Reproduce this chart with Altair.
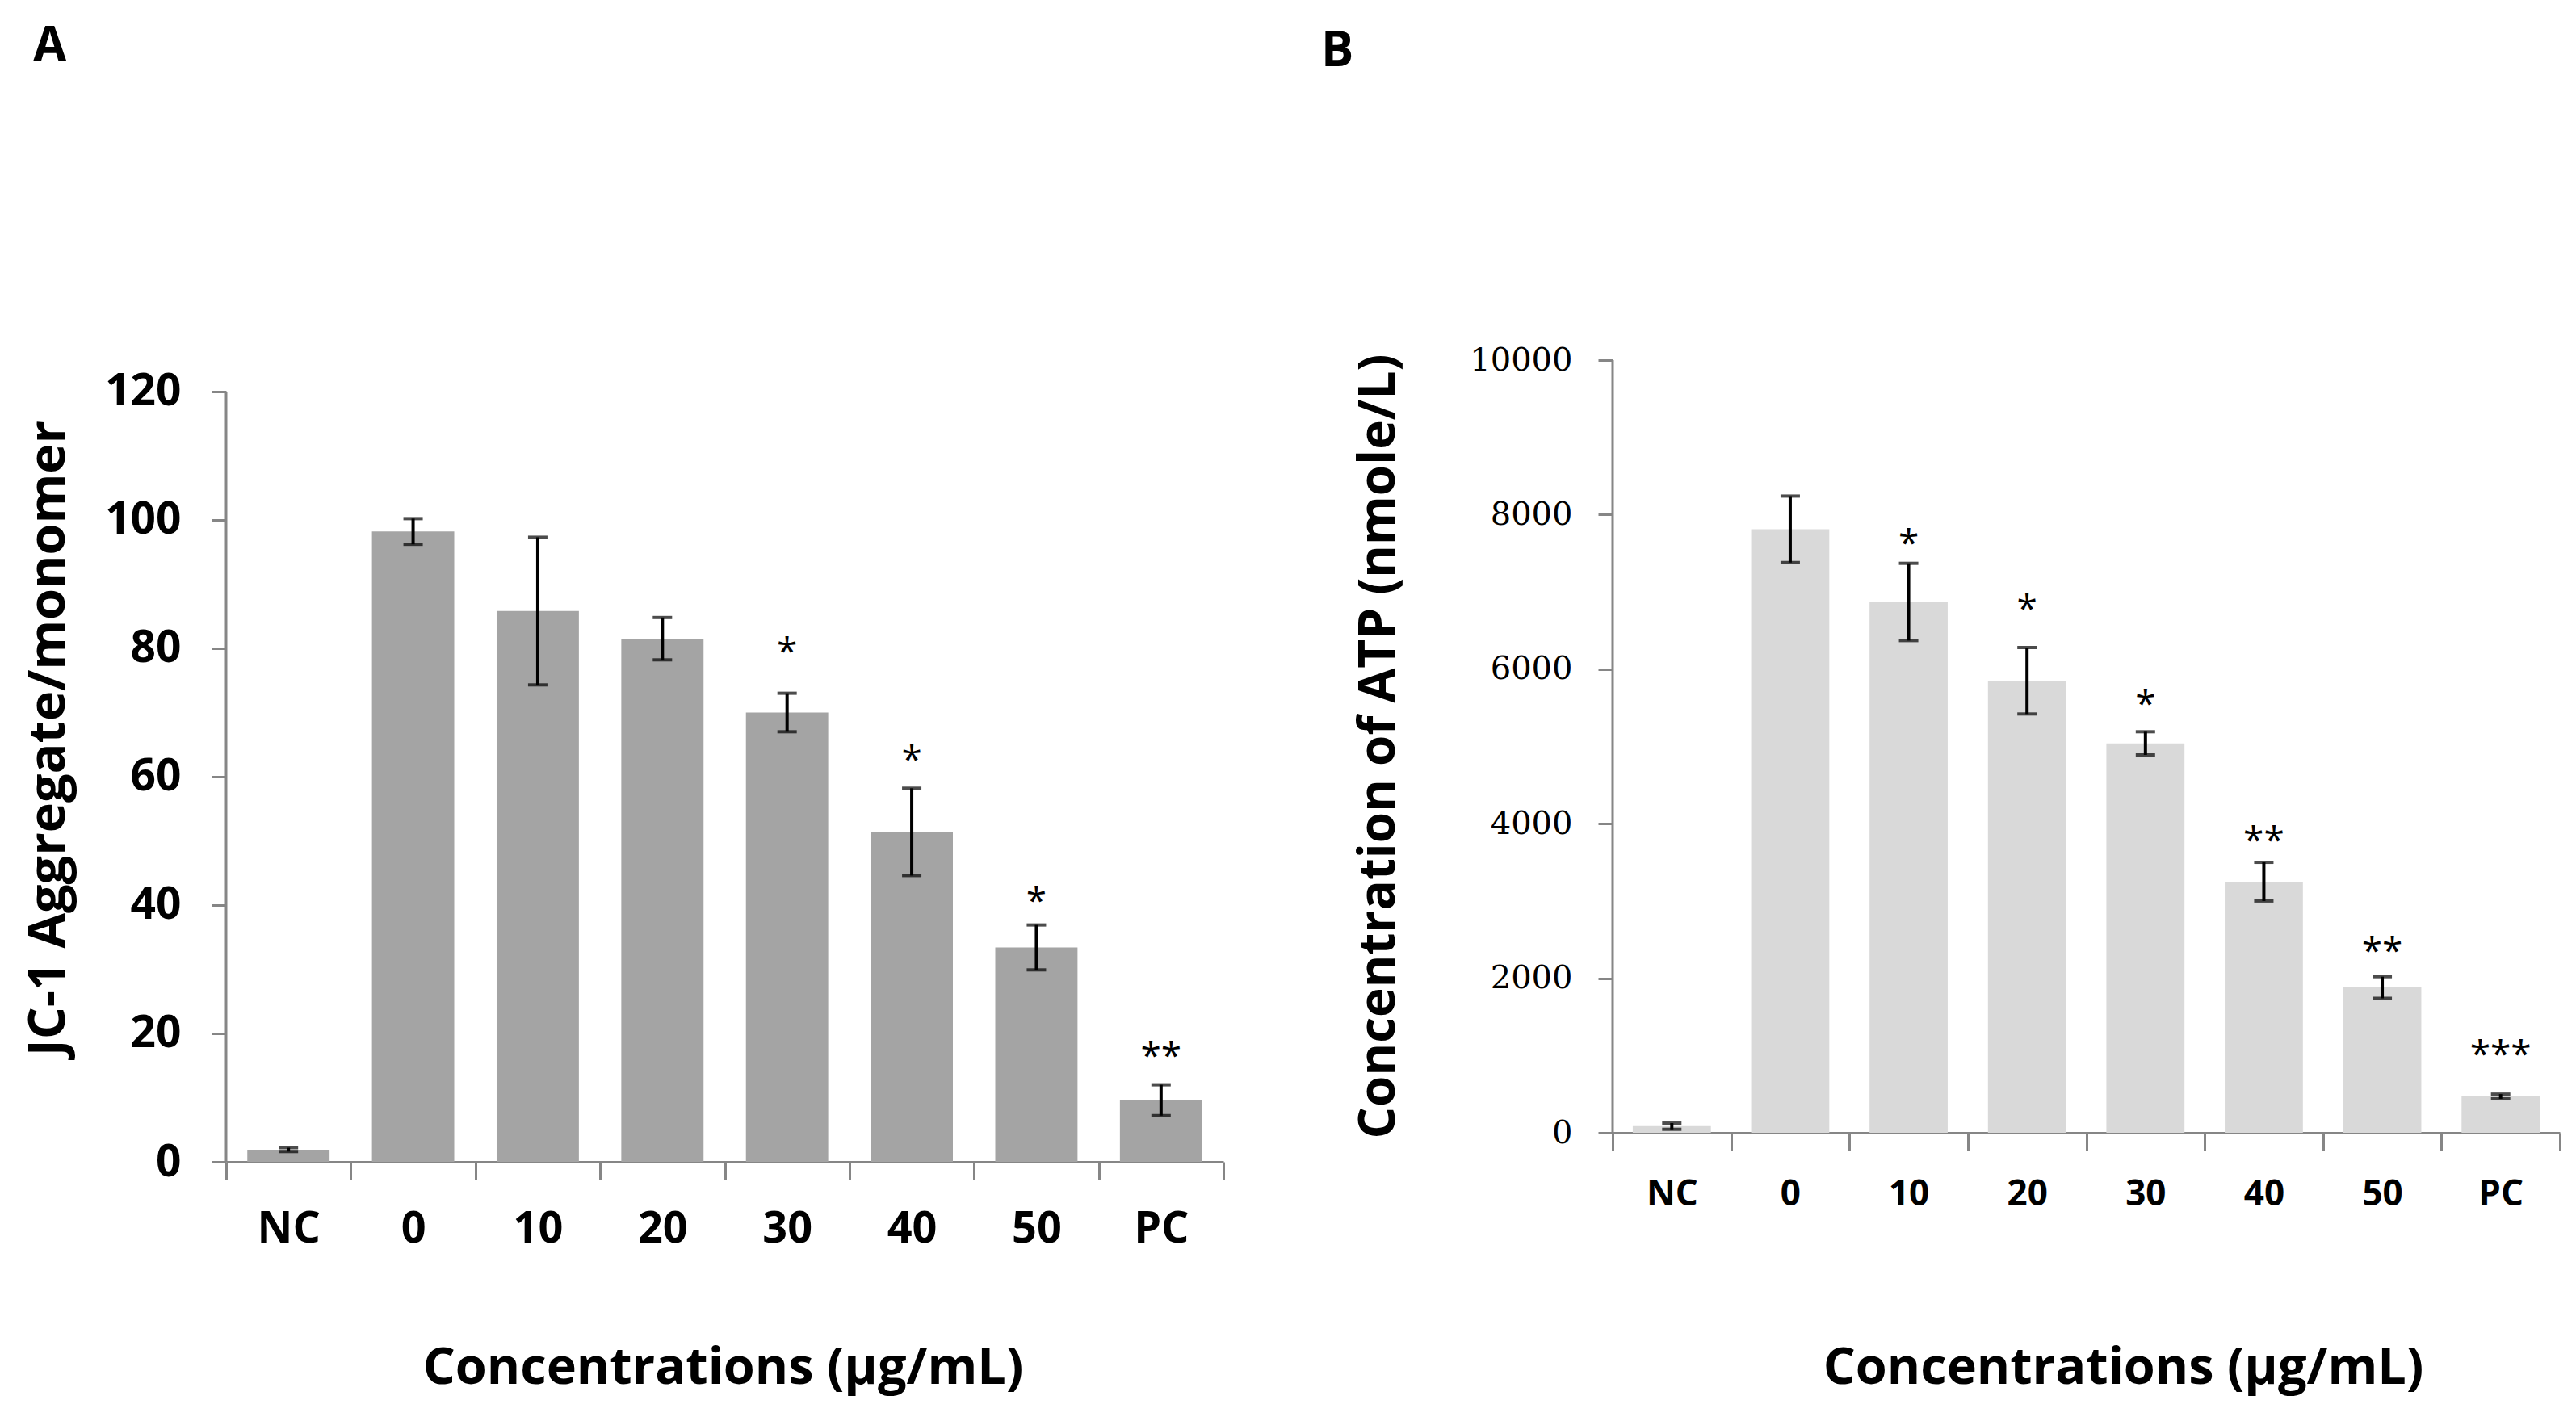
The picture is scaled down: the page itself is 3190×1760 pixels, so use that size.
import altair as alt
import pandas as pd

# ---------------- data ----------------
cats = ["NC", "0", "10", "20", "30", "40", "50", "PC"]

jc1_mean = [1.9, 98.2, 85.8, 81.5, 70.0, 51.4, 33.4, 9.6]
jc1_err = [0.3, 2.0, 11.5, 3.3, 3.0, 6.8, 3.5, 2.4]
jc1_sig = ["", "", "", "", "*", "*", "*", "**"]
jc1_sig_y = [None, None, None, None, 80.9, 64.0, 42.0, 17.9]
jc1_ticks = [0, 20, 40, 60, 80, 100, 120]

atp_mean = [85, 7810, 6870, 5850, 5040, 3250, 1880, 470]
atp_err = [40, 430, 500, 430, 150, 250, 140, 30]
atp_sig = ["", "", "*", "*", "*", "**", "**", "***"]
atp_sig_y = [None, None, 7745, 6894, 5660, 3894, 2468, 1128]
atp_ticks = [0, 2000, 4000, 6000, 8000, 10000]

XTITLE = "Concentrations (μg/mL)"
TF = "Open Sans"
GRAY = "#868686"


def make_df(mean, err, sig, sig_y):
    return pd.DataFrame({"cat": cats, "mean": mean, "err": err,
                         "sig": sig, "sig_y": sig_y})


def panel(df, *, letter, letter_dx, letter_offset, ytitle, ytitle_size,
          ytitle_x, ytitle_y, ydomain, yticks, ytop, width, height, fill,
          ylab_font, ylab_size, ylab_weight, ylab_pad,
          xlab_size, xlab_pad, xtitle_x, xtitle_y):
    base = alt.Chart(df).transform_calculate(
        lo="datum.mean - datum.err", hi="datum.mean + datum.err")

    xscale = alt.Scale(paddingInner=0, paddingOuter=0)
    x_main = alt.X("cat:N", sort=cats, scale=xscale, title=XTITLE,
                   axis=alt.Axis(labelAngle=0, tickBand="extent", tickSize=22,
                                 tickWidth=3, tickColor=GRAY, domainColor=GRAY,
                                 domainWidth=3, labelFont=TF,
                                 labelFontSize=xlab_size, labelFontWeight="bold",
                                 labelColor="black", labelPadding=xlab_pad,
                                 titleFont=TF, titleFontSize=63,
                                 titleFontWeight="bold", titleColor="black",
                                 titleX=xtitle_x, titleY=xtitle_y,
                                 titleBaseline="alphabetic", titleAlign="center"))
    x_plain = alt.X("cat:N", sort=cats, scale=xscale, title=XTITLE)

    yscale = alt.Scale(domain=ydomain, nice=False, zero=True)
    y_main = alt.Y("mean:Q", scale=yscale, title=ytitle,
                   axis=alt.Axis(values=yticks, format="d", domain=False,
                                 grid=False, tickSize=18, tickWidth=3,
                                 tickColor=GRAY,
                                 labelFont=ylab_font, labelFontSize=ylab_size,
                                 labelFontWeight=ylab_weight, labelColor="black",
                                 labelPadding=ylab_pad,
                                 titleFont=TF, titleFontSize=ytitle_size,
                                 titleFontWeight="bold", titleColor="black",
                                 titleX=ytitle_x, titleY=ytitle_y,
                                 titleBaseline="middle", titleAlign="center"))

    bars = base.mark_bar(width={"band": 0.66}, color=fill).encode(x=x_main, y=y_main)

    yline = alt.Chart(pd.DataFrame({"k": [0]})).mark_rule(
        color=GRAY, strokeWidth=3).encode(
        x=alt.value(0), y=alt.datum(0), y2=alt.datum(ytop))

    err = base.mark_rule(color="black", strokeWidth=4).encode(
        x=x_plain, y=alt.Y("lo:Q", title=ytitle), y2="hi:Q")
    cap_hi = base.mark_tick(color="black", thickness=4, size=24,
                            orient="horizontal").encode(
        x=x_plain, y=alt.Y("hi:Q", title=ytitle))
    cap_lo = base.mark_tick(color="black", thickness=4, size=24,
                            orient="horizontal").encode(
        x=x_plain, y=alt.Y("lo:Q", title=ytitle))

    stars = base.transform_filter("datum.sig_y != null").mark_text(
        font=TF, fontSize=46, color="black", baseline="alphabetic", dy=27
    ).encode(x=x_plain, y=alt.Y("sig_y:Q", title=ytitle), text="sig:N")

    return alt.layer(bars, yline, err, cap_hi, cap_lo, stars).properties(
        width=width, height=height,
        title=alt.TitleParams(letter, anchor="start", frame="group",
                              dx=letter_dx, offset=letter_offset,
                              baseline="alphabetic",
                              font=TF, fontSize=60, fontWeight="bold",
                              color="black"))


panel_a = panel(
    make_df(jc1_mean, jc1_err, jc1_sig, jc1_sig_y),
    letter="A", letter_dx=-239, letter_offset=310,
    ytitle="JC-1 Aggregate/monomer", ytitle_size=63, ytitle_x=-220, ytitle_y=468,
    ydomain=[0, 124.9], yticks=jc1_ticks, ytop=120, width=1235, height=993,
    fill="#a4a4a4", ylab_font=TF, ylab_size=55, ylab_weight="bold", ylab_pad=38,
    xlab_size=54, xlab_pad=34, xtitle_x=615, xtitle_y=274)

panel_b = panel(
    make_df(atp_mean, atp_err, atp_sig, atp_sig_y),
    letter="B", letter_dx=-361, letter_offset=284,
    ytitle="Concentration of ATP (nmole/L)", ytitle_size=62, ytitle_x=-290,
    ytitle_y=478,
    ydomain=[0, 10000], yticks=atp_ticks, ytop=10000, width=1173, height=957,
    fill="#d9d9d9", ylab_font="DejaVu Serif", ylab_size=40,
    ylab_weight="normal", ylab_pad=32,
    xlab_size=44, xlab_pad=32, xtitle_x=632, xtitle_y=310)

chart = alt.hconcat(panel_a, panel_b, spacing=119).properties(
    padding={"left": 20, "top": 20, "right": 6, "bottom": 12},
    background="white"
).configure_view(stroke=None)

chart.save("out.html", embed_options={"renderer": "svg", "actions": False})
